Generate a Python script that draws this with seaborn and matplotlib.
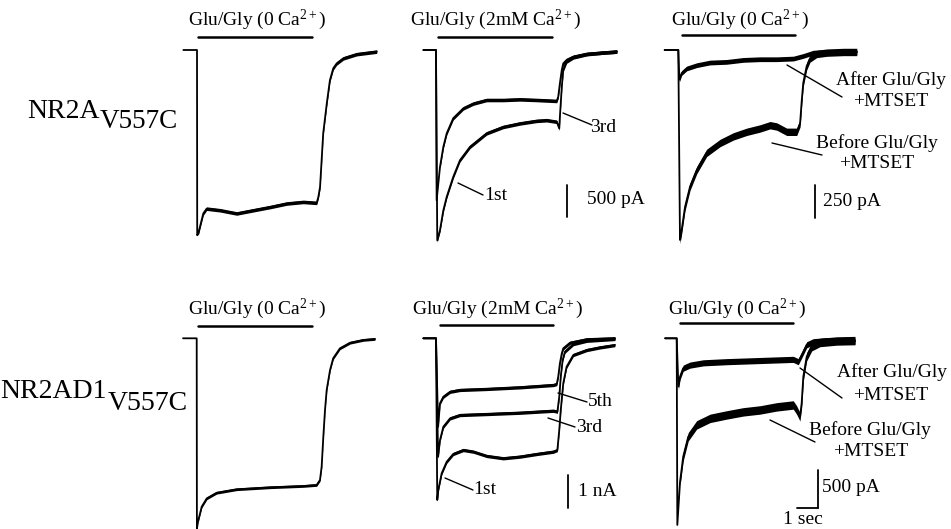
import numpy as np
import seaborn as sns
import matplotlib.pyplot as plt

W, H = 951, 529
PX_PER_S = 21  # 1 sec scale bar is ~21 px long

# -------------------- DATA (time in s, current in pA) --------------------
# Row 1, left: NR2A V557C, 0 Ca2+
a1_t = [-0.65, 0, 0.01, 0.06, 0.14, 0.30, 0.46, 1.10, 1.89, 2.68, 3.48, 4.27, 5.06, 5.70,
        5.78, 5.86, 6.01, 6.18, 6.33, 6.49, 6.65, 6.97, 7.60, 8.56]
a1_i = [0, 0, -2890, -2865, -2760, -2550, -2475, -2500, -2550, -2500, -2450, -2395, -2370, -2385,
        -2290, -2135, -1300, -835, -470, -285, -210, -130, -65, -25]

# Row 1, middle: 2 mM Ca2+, 1st and 3rd application
a2_1st_t = [-0.6, 0, 0.06, 0.19, 0.35, 0.51, 0.82, 1.14, 1.62, 2.41, 3.20, 4.00, 4.80, 5.27, 5.75,
            5.87, 5.90, 5.99, 6.06, 6.22, 6.54, 7.18, 7.97, 8.61]
a2_1st_i = [0, 0, -2970, -2810, -2500, -2290, -1980, -1720, -1510, -1300, -1200, -1145, -1105, -1095,
            -1120, -1225, -1040, -575, -310, -180, -115, -65, -40, -25]
a2_3rd_t = [-0.6, 0, 0.03, 0.19, 0.35, 0.51, 0.82, 1.30, 1.78, 2.41, 3.20, 4.00, 4.80, 5.75, 5.82,
            5.90, 5.99, 6.06, 6.22, 6.54, 7.18, 7.97, 8.61]
a2_3rd_i = [0, 0, -2345, -1825, -1510, -1300, -1065, -910, -835, -780, -780, -770, -780, -795, -730,
            -520, -310, -210, -155, -105, -60, -40, -25]

# Row 1, right: before / after Glu/Gly + MTSET
a3_before_t = [-0.65, 0, 0.08, 0.16, 0.32, 0.56, 0.88, 1.35, 1.99, 2.62, 3.26, 3.89, 4.37, 4.69, 5.16,
               5.64, 5.80, 5.88, 5.95, 6.11, 6.27, 6.59, 7.07, 7.86, 8.50]
a3_before_i = [0, 0, -1440, -1365, -1190, -1035, -910, -780, -705, -655, -620, -595, -570, -580, -620,
               -620, -555, -380, -250, -125, -65, -30, -20, -15, -15]
a3_after_t = [-0.65, 0, 0.05, 0.16, 0.40, 0.88, 1.51, 2.30, 3.10, 3.89, 4.69, 5.48, 5.95, 6.43, 7.07, 8.50]
a3_after_i = [0, 0, -225, -175, -140, -115, -95, -90, -75, -70, -70, -65, -45, -20, -15, -15]

# Row 2, left: NR2AD1 V557C, 0 Ca2+
b1_t = [-0.65, 0, 0.01, 0.08, 0.24, 0.48, 0.95, 1.90, 2.70, 3.49, 4.29, 5.08, 5.71, 5.87, 5.95,
        6.03, 6.11, 6.19, 6.35, 6.50, 6.82, 7.30, 7.93, 8.49]
b1_i = [0, 0, -5760, -5505, -5100, -4850, -4680, -4575, -4545, -4515, -4495, -4475, -4445, -4295, -3890,
        -2980, -2170, -1565, -960, -605, -305, -135, -50, -20]

# Row 2, middle: 2 mM Ca2+, 1st, 3rd and 5th application
b2_1st_t = [-0.6, 0, 0.06, 0.11, 0.27, 0.51, 0.82, 1.30, 1.78, 2.41, 3.20, 4.00, 4.80, 5.59, 5.78,
            5.87, 5.94, 6.06, 6.22, 6.54, 7.18, 7.81, 8.52]
b2_1st_i = [0, 0, -4900, -4595, -4090, -3740, -3505, -3385, -3435, -3565, -3635, -3585, -3505, -3435, -3385,
            -2780, -2180, -1365, -860, -505, -355, -275, -205]
b2_3rd_t = [-0.6, 0, 0.10, 0.19, 0.35, 0.67, 1.14, 2.41, 4.00, 5.59, 5.78, 5.87, 5.94, 6.03, 6.14,
            6.54, 7.18, 8.52]
b2_3rd_i = [0, 0, -3590, -3085, -2680, -2425, -2325, -2295, -2255, -2195, -2225, -1770, -1165, -660, -405,
            -175, -75, -20]
b2_5th_t = [-0.6, 0, 0.10, 0.19, 0.35, 0.67, 1.14, 2.41, 4.00, 5.59, 5.75, 5.82, 5.90, 5.99, 6.06,
            6.38, 7.18, 8.52]
b2_5th_i = [0, 0, -2680, -1970, -1770, -1620, -1565, -1535, -1485, -1415, -1385, -1165, -760, -455, -305,
            -135, -30, 0]

# Row 2, right: before / after Glu/Gly + MTSET
b3_before_t = [-0.55, 0, 0.03, 0.16, 0.31, 0.55, 0.95, 1.59, 2.38, 3.17, 3.97, 4.76, 5.55, 5.71, 5.87,
               5.95, 6.03, 6.19, 6.43, 6.82, 7.62, 8.49]
b3_before_i = [0, 0, -2435, -1870, -1545, -1285, -1130, -1045, -1000, -960, -935, -895, -870, -935, -1025,
               -850, -500, -240, -110, -55, -35, -30]
b3_after_t = [-0.55, 0, 0.08, 0.16, 0.31, 0.63, 1.27, 2.38, 3.97, 5.55, 5.79, 5.95, 6.19, 6.50, 7.14, 8.49]
b3_after_i = [0, 0, -630, -500, -390, -350, -320, -305, -290, -275, -305, -220, -85, -45, -30, -35]

# -------------------- FIGURE --------------------
sns.set_style('white')
plt.rcParams['font.family'] = ['Liberation Serif', 'DejaVu Serif']
plt.rcParams['text.color'] = 'black'
plt.rcParams['mathtext.fontset'] = 'custom'
plt.rcParams['mathtext.rm'] = 'Liberation Serif'
plt.rcParams['mathtext.it'] = 'Liberation Serif:italic'

fig = plt.figure(figsize=(W / 100, H / 100), dpi=100)

# overlay axes in pixel coordinates for labels, bars and leader lines
ov = fig.add_axes([0, 0, 1, 1])
ov.set_xlim(0, W)
ov.set_ylim(H, 0)
ov.axis('off')


def panel(t0_px, base_px, pa_per_px):
    """Axes covering the whole figure, scaled so t=0 / I=0 sits at the given pixel."""
    ax = fig.add_axes([0, 0, 1, 1])
    ax.set_xlim(-t0_px / PX_PER_S, (W - t0_px) / PX_PER_S)
    ax.set_ylim((base_px - H) * pa_per_px, base_px * pa_per_px)
    ax.axis('off')
    ax.patch.set_alpha(0)
    return ax


def trace(ax, t, i, noise):
    t = np.asarray(t, float)
    i = np.asarray(i, float)
    sns.lineplot(x=t, y=i, ax=ax, color='black', lw=1.3, sort=False, estimator=None)
    m = t >= 0.05
    ax.fill_between(t[m], i[m] - noise, i[m] + noise, color='black', lw=0)


def scalebar(ax, t, i, di, dt=None):
    ax.plot([t, t], [i, i + di], color='black', lw=1.3)
    if dt:
        ax.plot([t - dt, t], [i, i], color='black', lw=1.3)


ax_a1 = panel(197, 50, 15.6)
trace(ax_a1, a1_t, a1_i, 28)

ax_a2 = panel(436, 50, 15.6)
trace(ax_a2, a2_1st_t, a2_1st_i, 28)
trace(ax_a2, a2_3rd_t, a2_3rd_i, 28)
scalebar(ax_a2, 6.22, -2605, 500)

ax_a3 = panel(678.3, 50, 7.58)
trace(ax_a3, a3_before_t, a3_before_i, 28)
trace(ax_a3, a3_after_t, a3_after_i, 18)
scalebar(ax_a3, 6.51, -1276, 250)

ax_b1 = panel(196.7, 338.3, 30.3)
trace(ax_b1, b1_t, b1_i, 40)

ax_b2 = panel(436, 338.3, 30.3)
trace(ax_b2, b2_1st_t, b2_1st_i, 50)
trace(ax_b2, b2_3rd_t, b2_3rd_i, 50)
trace(ax_b2, b2_5th_t, b2_5th_i, 50)
scalebar(ax_b2, 6.30, -5150, 1000)

ax_b3 = panel(676.7, 338.3, 13.05)
trace(ax_b3, b3_before_t, b3_before_i, 55)
trace(ax_b3, b3_after_t, b3_after_i, 40)
scalebar(ax_b3, 6.74, -2218, 500, dt=1)

# -------------------- LABELS --------------------
ttl = dict(fontsize=14, ha='center', va='center')
lbl = dict(fontsize=14, ha='center', va='center')
sol0 = r'Glu/Gly (0 $\mathrm{Ca}^{\mathrm{2+}}$)'
sol2 = r'Glu/Gly (2mM $\mathrm{Ca}^{\mathrm{2+}}$)'

for x, y, s in [(257, 20, sol0), (495, 20, sol2), (740, 20, sol0),
                (257, 309, sol0), (497, 309, sol2), (737, 309, sol0)]:
    ov.text(x, y, s, **ttl)

# application bars
for x0, x1, y in [(198, 312, 37), (438, 552, 37), (682, 795, 35),
                  (198, 312, 326), (440, 553, 325), (680, 793, 323)]:
    ov.plot([x0, x1], [y, y], color='black', lw=1.8)

# leader lines
for x0, y0, x1, y1 in [(563, 113, 592, 125), (458, 183, 483, 195),
                       (787, 65, 842, 97), (772, 143, 822, 155),
                       (558, 393, 587, 402), (548, 418, 575, 427), (445, 478, 473, 490),
                       (800, 368, 842, 398), (770, 420, 815, 442)]:
    ov.plot([x0, x1], [y0, y1], color='black', lw=1.0)

for x, y, s in [(603, 127, '3rd'), (496, 195, '1st'),
                (891, 80, 'After Glu/Gly'), (891, 101, '+MTSET'),
                (877, 143, 'Before Glu/Gly'), (877, 164, '+MTSET'),
                (600, 402, '5th'), (589, 427, '3rd'), (485, 490, '1st'),
                (892, 372, 'After Glu/Gly'), (891, 395, '+MTSET'),
                (870, 430, 'Before Glu/Gly'), (871, 452, '+MTSET'),
                (803, 519, '1 sec')]:
    ov.text(x, y, s, **lbl)

for x, y, s in [(587, 200, '500 pA'), (823, 202, '250 pA'),
                (578, 492, '1 nA'), (822, 488, '500 pA')]:
    ov.text(x, y, s, fontsize=14, ha='left', va='center')

# row labels with subscript
ov.text(100, 112, 'NR2A', fontsize=20, ha='right', va='center')
ov.text(100, 121, 'V557C', fontsize=19.5, ha='left', va='center')
ov.text(107, 392, 'NR2AD1', fontsize=20, ha='right', va='center')
ov.text(108, 404, 'V557C', fontsize=20, ha='left', va='center')

plt.savefig('out.png', dpi=100)
